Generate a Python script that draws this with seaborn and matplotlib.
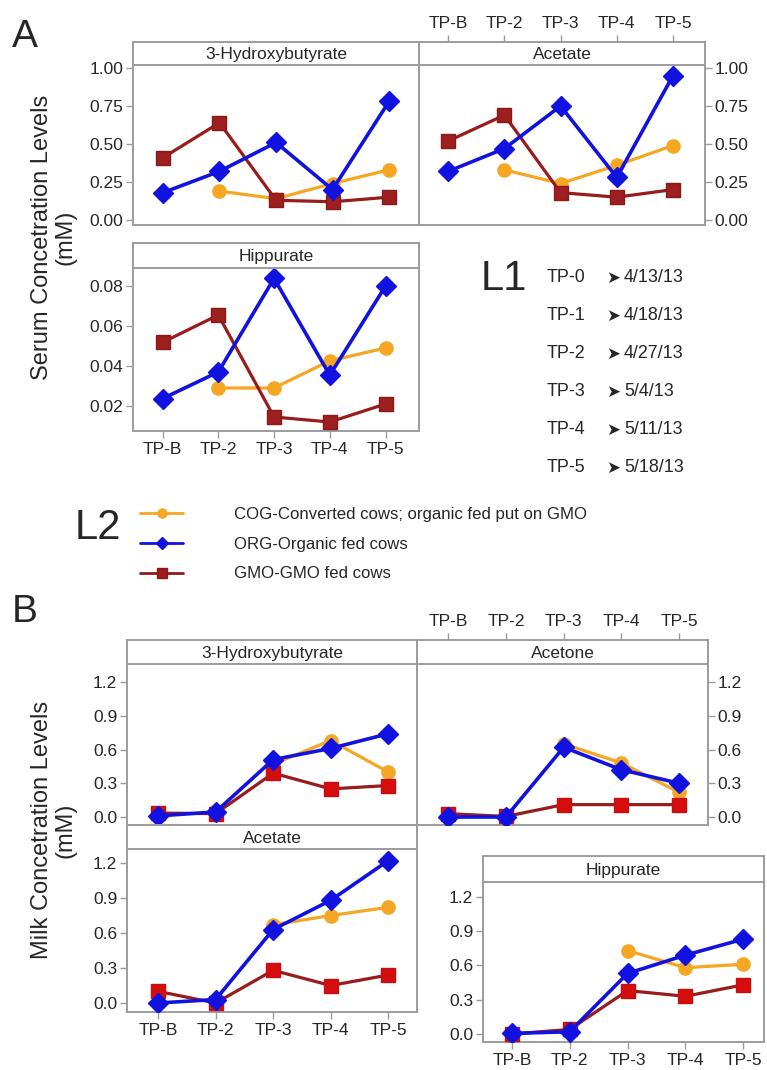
import numpy as np
import pandas as pd
import matplotlib
matplotlib.use("Agg")
import matplotlib.pyplot as plt
import seaborn as sns
from matplotlib import font_manager
from matplotlib.lines import Line2D
from matplotlib.ticker import FormatStrFormatter

nan = np.nan

# ---------------- data ----------------
timepoints = ["TP-B", "TP-2", "TP-3", "TP-4", "TP-5"]
groups = ["COG", "ORG", "GMO"]
legend_labels = ["COG-Converted cows; organic fed put on GMO",
                 "ORG-Organic fed cows",
                 "GMO-GMO fed cows"]
l1_points = ["TP-0", "TP-1", "TP-2", "TP-3", "TP-4", "TP-5"]
l1_dates = ["4/13/13", "4/18/13", "4/27/13", "5/4/13", "5/11/13", "5/18/13"]

serum_3hb_cog = [nan, 0.19, 0.14, 0.24, 0.33]
serum_3hb_org = [0.18, 0.32, 0.51, 0.20, 0.78]
serum_3hb_gmo = [0.41, 0.64, 0.13, 0.12, 0.15]

serum_acetate_cog = [nan, 0.33, 0.24, 0.36, 0.49]
serum_acetate_org = [0.32, 0.47, 0.75, 0.28, 0.95]
serum_acetate_gmo = [0.52, 0.69, 0.18, 0.15, 0.20]

serum_hipp_cog = [nan, 0.029, 0.029, 0.0426, 0.049]
serum_hipp_org = [0.0237, 0.037, 0.0838, 0.0354, 0.080]
serum_hipp_gmo = [0.0518, 0.0655, 0.0145, 0.012, 0.021]

milk_3hb_cog = [nan, nan, 0.47, 0.68, 0.40]
milk_3hb_org = [0.01, 0.045, 0.51, 0.61, 0.74]
milk_3hb_gmo = [0.035, 0.03, 0.39, 0.25, 0.28]

milk_acetone_cog = [nan, nan, 0.65, 0.48, 0.22]
milk_acetone_org = [0.0, 0.0, 0.62, 0.42, 0.30]
milk_acetone_gmo = [0.03, 0.005, 0.11, 0.11, 0.11]

milk_acetate_cog = [nan, nan, 0.67, 0.75, 0.82]
milk_acetate_org = [0.0, 0.03, 0.63, 0.88, 1.22]
milk_acetate_gmo = [0.10, 0.0, 0.28, 0.15, 0.24]

milk_hipp_cog = [nan, nan, 0.73, 0.58, 0.61]
milk_hipp_org = [0.005, 0.02, 0.53, 0.69, 0.83]
milk_hipp_gmo = [0.0, 0.04, 0.38, 0.33, 0.43]

# ---------------- style ----------------
sns.set_style("white")
names = {f.name for f in font_manager.fontManager.ttflist}
if "Liberation Sans Narrow" in names:
    NARROW, NS = "Liberation Sans Narrow", 1.0
else:
    NARROW, NS = "Liberation Sans", 0.86
REG = "Liberation Sans" if "Liberation Sans" in names else "DejaVu Sans"
plt.rcParams["font.family"] = [NARROW, "DejaVu Sans"]

GRAY = "#9c9c9c"
COL = {"COG": "#F5A623", "ORG": "#1212E0", "GMO": "#981C1C"}

W, H = 767, 1070
fig = plt.figure(figsize=(W / 100, H / 100), dpi=100)


def rect(l, t, r, b):
    return [l / W, 1 - b / H, (r - l) / W, (b - t) / H]


def make_df(cog, org, gmo):
    rows = []
    for g, vals in zip(groups, [cog, org, gmo]):
        for i, v in enumerate(vals):
            rows.append({"tp": i, "group": g, "value": v})
    return pd.DataFrame(rows).dropna()


def style_spines(ax):
    for s in ax.spines.values():
        s.set_color(GRAY)
        s.set_linewidth(1.4)


def panel(box, strip_top, title, data, xlim, ylim, yticks, fmt,
          side="left", xbottom=False, xtop=False, milk=False):
    l, t, r, b = box
    ax = fig.add_axes(rect(l, t, r, b))
    df = make_df(*data)
    for g in groups:
        sub = df[df.group == g]
        if g == "COG":
            kw = dict(marker="o", markersize=9.5, markerfacecolor=COL[g],
                      markeredgecolor=COL[g], zorder=2, linewidth=2.3)
        elif g == "ORG":
            kw = dict(marker="D", markersize=10, markerfacecolor=COL[g],
                      markeredgecolor=COL[g], zorder=4, linewidth=2.6)
        else:
            fc = "#D60D0D" if milk else "#9E1F1F"
            ec = "#C41010" if milk else "#8A1818"
            kw = dict(marker="s", markersize=10, markerfacecolor=fc,
                      markeredgecolor=ec, zorder=3, linewidth=2.3)
        sns.lineplot(data=sub, x="tp", y="value", color=COL[g],
                     markeredgewidth=1.0, errorbar=None, legend=False, ax=ax, **kw)
    ax.set_xlim(*xlim)
    ax.set_ylim(*ylim)
    ax.set_xlabel("")
    ax.set_ylabel("")
    ax.set_xticks(range(len(timepoints)))
    ax.set_xticklabels(timepoints)
    ax.set_yticks(yticks)
    ax.yaxis.set_major_formatter(FormatStrFormatter(fmt))
    style_spines(ax)
    ax.tick_params(axis="both", direction="out", length=5, width=1,
                   color=GRAY, labelsize=14.5 * NS, pad=2)
    ax.tick_params(axis="x", bottom=xbottom, labelbottom=xbottom, pad=3)
    if side == "right":
        ax.yaxis.tick_right()
        ax.tick_params(axis="y", left=False, labelleft=False, right=True,
                       labelright=True)
    else:
        ax.tick_params(axis="y", left=True, labelleft=True, right=False)

    sax = fig.add_axes(rect(l, strip_top, r, t))
    sax.set_facecolor("white")
    sax.set_xlim(*xlim)
    sax.set_ylim(0, 1)
    sax.set_yticks([])
    style_spines(sax)
    sax.text(np.mean(xlim), 0.45, title, ha="center", va="center",
             fontsize=14.5 * NS)
    if xtop:
        sax.xaxis.tick_top()
        sax.set_xticks(range(len(timepoints)))
        sax.set_xticklabels(timepoints)
        sax.tick_params(axis="x", direction="out", length=5, width=1,
                        color=GRAY, labelsize=14.5 * NS, pad=3)
    else:
        sax.set_xticks([])
    return ax


# ---------------- Panel A (serum) ----------------
panel((133, 65, 419, 225), 42, "3-Hydroxybutyrate",
      (serum_3hb_cog, serum_3hb_org, serum_3hb_gmo),
      (-0.53, 4.53), (-0.033, 1.02), [0, 0.25, 0.5, 0.75, 1.0], "%.2f")
panel((419, 65, 705, 225), 42, "Acetate",
      (serum_acetate_cog, serum_acetate_org, serum_acetate_gmo),
      (-0.52, 4.57), (-0.033, 1.02), [0, 0.25, 0.5, 0.75, 1.0], "%.2f",
      side="right", xtop=True)
panel((133, 268, 419, 431), 243, "Hippurate",
      (serum_hipp_cog, serum_hipp_org, serum_hipp_gmo),
      (-0.53, 4.6), (0.0075, 0.089), [0.02, 0.04, 0.06, 0.08], "%.2f",
      xbottom=True)

# ---------------- Panel B (milk) ----------------
mt = [0, 0.3, 0.6, 0.9, 1.2]
panel((127, 664, 417, 825), 640, "3-Hydroxybutyrate",
      (milk_3hb_cog, milk_3hb_org, milk_3hb_gmo),
      (-0.54, 4.5), (-0.071, 1.36), mt, "%.1f", milk=True)
panel((417, 664, 708, 825), 640, "Acetone",
      (milk_acetone_cog, milk_acetone_org, milk_acetone_gmo),
      (-0.54, 4.5), (-0.071, 1.36), mt, "%.1f", side="right", xtop=True,
      milk=True)
panel((127, 849, 417, 1012), 825, "Acetate",
      (milk_acetate_cog, milk_acetate_org, milk_acetate_gmo),
      (-0.54, 4.5), (-0.077, 1.32), mt, "%.1f", xbottom=True, milk=True)
panel((483, 882, 764, 1042), 856, "Hippurate",
      (milk_hipp_cog, milk_hipp_org, milk_hipp_gmo),
      (-0.5, 4.36), (-0.07, 1.33), mt, "%.1f", xbottom=True, milk=True)

# ---------------- labels ----------------
fig.text(54 / W, 1 - 237 / H, "Serum Concetration Levels\n(mM)", rotation=90,
         ha="center", va="center", fontsize=17, family=[REG, "DejaVu Sans"],
         linespacing=1.1, multialignment="center")
fig.text(54 / W, 1 - 830 / H, "Milk Concetration Levels\n(mM)", rotation=90,
         ha="center", va="center", fontsize=17, family=[REG, "DejaVu Sans"],
         linespacing=1.1, multialignment="center")
fig.text(12 / W, 1 - 37 / H, "A", fontsize=28, va="center", ha="left",
         family=[REG, "DejaVu Sans"])
fig.text(12 / W, 1 - 612 / H, "B", fontsize=28, va="center", ha="left",
         family=[REG, "DejaVu Sans"])

# L1
fig.text(481 / W, 1 - 279 / H, "L1", fontsize=35 * NS, va="center", ha="left")
for i, (p, d) in enumerate(zip(l1_points, l1_dates)):
    y = 1 - (278 + 38 * i) / H
    fig.text(547 / W, y, p, fontsize=15 * NS, va="center", ha="left")
    fig.text(613 / W, y, "\u27a4", fontsize=12, va="center", ha="center",
             family=["DejaVu Sans"])
    fig.text(624 / W, y, d, fontsize=15 * NS, va="center", ha="left")

# L2
fig.text(75 / W, 1 - 528 / H, "L2", fontsize=35 * NS, va="center", ha="left")
handles = [
    Line2D([], [], color=COL["COG"], lw=2, marker="o", ms=6.5,
           markerfacecolor=COL["COG"], markeredgecolor=COL["COG"]),
    Line2D([], [], color=COL["ORG"], lw=2, marker="D", ms=6.5,
           markerfacecolor=COL["ORG"], markeredgecolor=COL["ORG"]),
    Line2D([], [], color="#8E1B1B", lw=2, marker="s", ms=7,
           markerfacecolor="#981C1C", markeredgecolor="#8A1818"),
]
fig.legend(handles, legend_labels, loc="upper left",
           bbox_to_anchor=(140 / W, 1 - 507 / H), frameon=False,
           fontsize=14 * NS, handlelength=2.6, handletextpad=3.0,
           labelspacing=0.88, borderpad=0, borderaxespad=0)

fig.savefig("out.png", dpi=100, facecolor="white")
